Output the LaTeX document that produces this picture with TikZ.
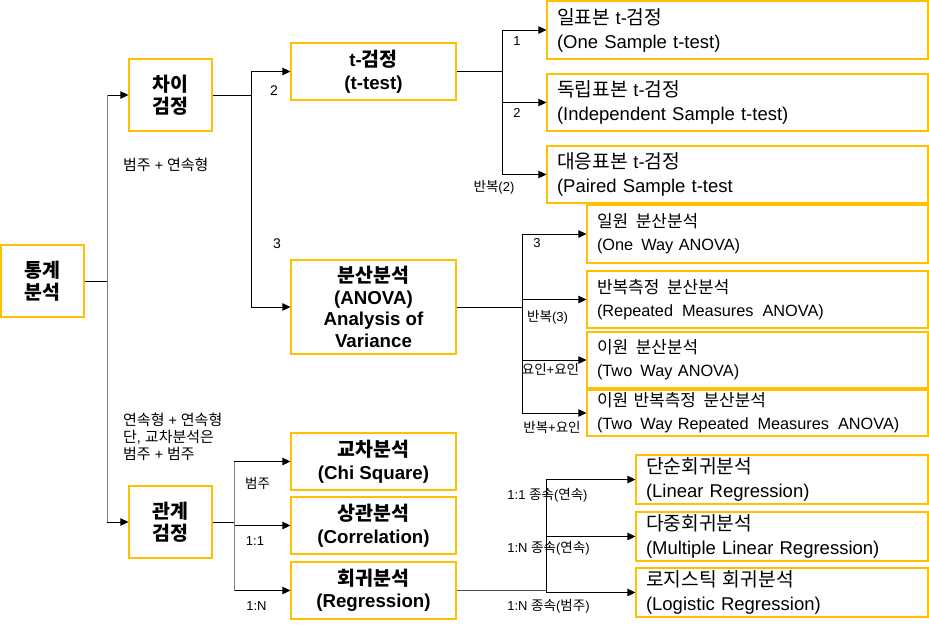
\documentclass[tikz,border=0pt]{standalone}
\usepackage{fontspec}
\setmainfont{Liberation Sans}
\newfontfamily\krf[Scale=1.04]{Noto Sans CJK KR}
\newcommand\kr[1]{{\krf #1}}
\usetikzlibrary{arrows.meta}
\definecolor{boxc}{HTML}{FFC000}
\definecolor{lgray}{HTML}{7F7F7F}
\tikzset{
  box/.style={draw=boxc, line width=1.2pt, inner sep=0pt, align=center, font=\fontsize{18.7}{22.5}\selectfont\bfseries},
  rbox/.style={draw=boxc, line width=1.2pt, inner xsep=10pt, inner ysep=0pt, align=left, font=\fontsize{18.5}{24}\selectfont},
  abox/.style={rbox, font=\fontsize{16.3}{23}\selectfont},
  conn/.style={line width=1pt, black},
  arr/.style={conn, -{Triangle[length=8pt,width=7.5pt]}},
  lab/.style={inner sep=0pt, font=\fontsize{13}{15}\selectfont},
  labb/.style={inner sep=0pt, font=\fontsize{14.4}{17}\selectfont, align=left},
}
\begin{document}
\begin{tikzpicture}[x=1pt,y=-1pt]
\useasboundingbox (0,0) rectangle (929,627);
% left boxes
\node[box, minimum width=83, minimum height=72] (stat) at (42.5,281) {\kr{통계}\\\kr{분석}};
\node[box, minimum width=83, minimum height=72] (diff) at (170.5,95) {\kr{차이}\\\kr{검정}};
\node[box, minimum width=83, minimum height=72] (rel) at (170.5,522) {\kr{관계}\\\kr{검정}};
% middle boxes
\node[box, minimum width=165, minimum height=57] (ttest) at (373.5,71.5) {t-\kr{검정}\\(t-test)};
\node[box, minimum width=165, minimum height=94, font=\fontsize{18.7}{21.7}\selectfont\bfseries] (anova) at (373.5,307) {\kr{분산분석}\\(ANOVA)\\Analysis of\\Variance};
\node[box, minimum width=165, minimum height=57] (chi) at (373.5,461.5) {\kr{교차분석}\\(Chi Square)};
\node[box, minimum width=165, minimum height=57] (corr) at (373.5,525.5) {\kr{상관분석}\\(Correlation)};
\node[box, minimum width=165, minimum height=57] (regr) at (373.5,590.5) {\kr{회귀분석}\\(Regression)};
% t-test boxes
\node[rbox, text width=361, minimum height=58] (one) at (737.5,30) {\kr{일표본}\hspace{0.3em}t-\kr{검정}\\(One Sample t-test)};
\node[rbox, text width=361, minimum height=57] (ind) at (737.5,102.5) {\kr{독립표본}\hspace{0.3em}t-\kr{검정}\\(Independent Sample t-test)};
\node[rbox, text width=361, minimum height=57] (pair) at (737.5,174.5) {\kr{대응표본}\hspace{0.3em}t-\kr{검정}\\(Paired Sample t-test};
% anova boxes
\node[abox, text width=321, minimum height=58] (ow) at (757.5,234) {\kr{일원\hspace{0.45em}분산분석}\\(One\hspace{0.5em}Way ANOVA)};
\node[abox, text width=321, minimum height=57] (rm) at (757.5,299.5) {\kr{반복측정\hspace{0.45em}분산분석}\\(Repeated\hspace{0.55em}Measures\hspace{0.55em}ANOVA)};
\node[abox, text width=321, minimum height=56] (tw) at (757.5,360) {\kr{이원\hspace{0.45em}분산분석}\\(Two\hspace{0.5em}Way ANOVA)};
\node[abox, text width=321, minimum height=46] (twrm) at (757.5,413) {\kr{이원 반복측정\hspace{0.45em}분산분석}\\(Two\hspace{0.5em}Way Repeated\hspace{0.55em}Measures\hspace{0.55em}ANOVA)};
% regression boxes
\node[rbox, text width=272, minimum height=49] (lin) at (782,479.5) {\kr{단순회귀분석}\\(Linear Regression)};
\node[rbox, text width=272, minimum height=49] (mlin) at (782,536.5) {\kr{다중회귀분석}\\(Multiple Linear Regression)};
\node[rbox, text width=272, minimum height=49] (log) at (782,592.5) {\kr{로지스틱 회귀분석}\\(Logistic Regression)};
% junctions
\coordinate (j0) at (107,281);
\coordinate (j1) at (251,95);
\coordinate (j2) at (502,71.5);
\coordinate (j3) at (522,307);
\coordinate (j4) at (234,522);
\coordinate (j5) at (546,590.5);
% connectors
\draw[conn] (stat.east) -- (j0);
\draw[arr] (j0) |- (diff.west);
\draw[arr] (j0) |- (rel.west);
\draw[conn, lgray] (j0|-diff.west) -- (j0|-rel.west);
\draw[conn] (diff.east) -- (j1);
\draw[arr] (j1) |- (ttest.west);
\draw[arr] (j1) |- (anova.west);
\draw[conn] (ttest.east) -- (j2);
\draw[arr] (j2) |- (one.west);
\draw[arr] (j2) |- (ind.west);
\draw[arr] (j2) |- (pair.west);
\draw[conn] (anova.east) -- (j3);
\draw[arr] (j3) |- (ow.west);
\draw[arr] (j3) |- (rm.west);
\draw[arr] (j3) |- (tw.west);
\draw[arr] (j3) |- (twrm.west);
\draw[conn] (rel.east) -- (j4);
\draw[arr] (j4) |- (chi.west);
\draw[arr] (j4) |- (corr.west);
\draw[arr] (j4) |- (regr.west);
\draw[conn, lgray] (j4|-chi.west) -- (j4|-regr.west);
\draw[conn, lgray!60!black] (regr.east) -- (j5);
\draw[arr] (j5) |- (lin.west);
\draw[arr] (j5) |- (mlin.west);
\draw[arr] (j5) |- (log.west);
% labels
\node[lab, font=\fontsize{14}{16}\selectfont] (l2) at (274,91) {2};
\node[lab, font=\fontsize{14}{16}\selectfont] (l3) at (277,244) {3};
\node[labb, anchor=west] (lcat) at (123,165) {\kr{범주} + \kr{연속형}};
\node[labb, anchor=west] (lcc) at (123,437) {\kr{연속형} + \kr{연속형}\\\kr{단}, \kr{교차분석은}\\\kr{범주} + \kr{범주}};
\node[lab] (t1) at (517,41) {1};
\node[lab] (t2) at (517,113) {2};
\node[lab] (t3) at (494,187) {\kr{반복}(2)};
\node[lab] (a1) at (537,243) {3};
\node[lab] (a2) at (547.5,317) {\kr{반복}(3)};
\node[lab] (a3) at (550.5,369) {\kr{요인}+\kr{요인}};
\node[lab] (a4) at (552,427) {\kr{반복}+\kr{요인}};
\node[lab] (r1) at (257.5,483) {\kr{범주}};
\node[lab] (r2) at (255,541) {1:1};
\node[lab] (r3) at (256.5,606) {1:N};
\node[lab] (g1) at (547.5,495) {1:1 \kr{종속}(\kr{연속})};
\node[lab] (g2) at (548.5,548) {1:N \kr{종속}(\kr{연속})};
\node[lab] (g3) at (548.5,606) {1:N \kr{종속}(\kr{범주})};
\end{tikzpicture}
\end{document}
